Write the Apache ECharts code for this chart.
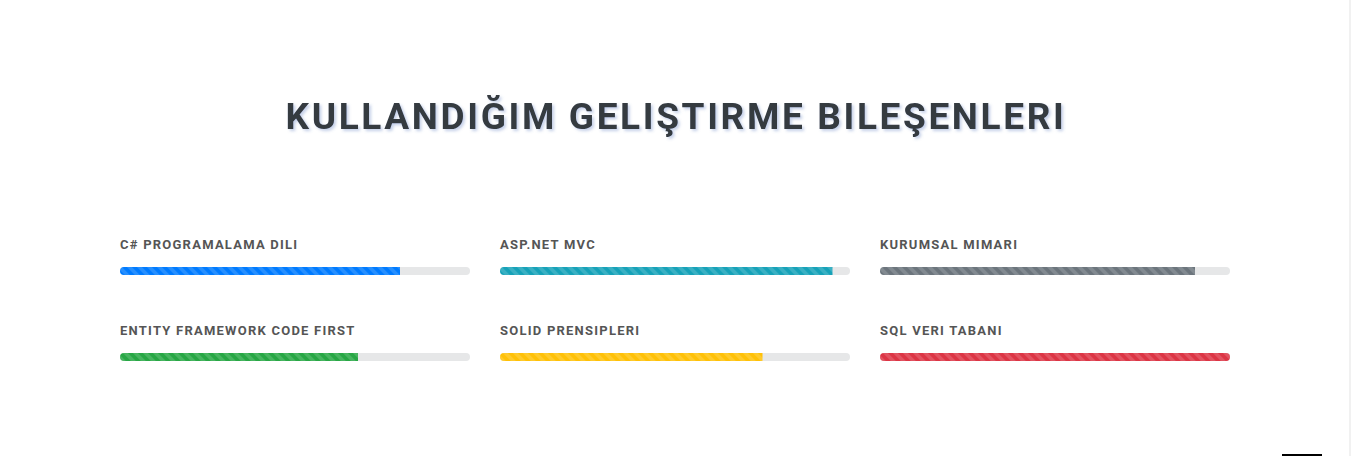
<!DOCTYPE html>
<html>
<head>
<meta charset="utf-8">
<script src="https://cdn.jsdelivr.net/npm/echarts@6/dist/echarts.min.js"></script>
<style>
html,body{margin:0;padding:0;background:#fff;}
#chart{width:1351px;height:456px;}
#chart svg text{letter-spacing:0.095em;}
#chart svg text[style*="37px"]{letter-spacing:0.071em;}
</style>
</head>
<body>
<div id="chart"></div>
<script>
const titleText = 'KULLANDIĞIM GELIŞTIRME BILEŞENLERI';
const categories = ['C# PROGRAMALAMA DILI', 'ASP.NET MVC', 'KURUMSAL MIMARI', 'ENTITY FRAMEWORK CODE FIRST', 'SOLID PRENSIPLERI', 'SQL VERI TABANI'];
const values = [80, 95, 90, 68, 75, 100];
const colors = ['#007bff', '#17a2b8', '#6c757d', '#28a745', '#ffc107', '#dc3545'];

function stripe(color) {
  const n = 10, ss = 4;
  const c = document.createElement('canvas');
  c.width = n; c.height = n;
  const ctx = c.getContext('2d');
  ctx.fillStyle = color; ctx.fillRect(0, 0, n, n);
  const img = ctx.getImageData(0, 0, n, n);
  for (let y = 0; y < n; y++) for (let x = 0; x < n; x++) {
    let cov = 0;
    for (let a = 0; a < ss; a++) for (let b = 0; b < ss; b++) {
      const px = x + (a + 0.5) / ss, py = y + (b + 0.5) / ss;
      let s = (px + n - py) % n; if (s < 0) s += n;
      if (s < n / 2) cov++;
    }
    const al = 0.15 * cov / (ss * ss);
    const k = (y * n + x) * 4;
    for (let j = 0; j < 3; j++) img.data[k + j] = Math.round(img.data[k + j] * (1 - al) + 255 * al);
  }
  ctx.putImageData(img, 0, 0);
  return c.toDataURL();
}

const chart = echarts.init(document.getElementById('chart'), null, {renderer: 'svg'});
const grids = [], xAxes = [], yAxes = [], series = [];
categories.forEach((name, i) => {
  const col = i % 3, row = Math.floor(i / 3);
  grids.push({left: 120 + col * 380, top: 267 + row * 86, width: 350, height: 8});
  xAxes.push({type: 'value', gridIndex: i, min: 0, max: 100, show: false});
  yAxes.push({type: 'category', gridIndex: i, data: [name], show: false});
  series.push({
    type: 'bar', xAxisIndex: i, yAxisIndex: i, barWidth: 8, silent: true, animation: false,
    showBackground: true,
    backgroundStyle: {color: '#e6e7e8', borderRadius: 4},
    itemStyle: {color: {image: stripe(colors[i]), repeat: 'repeat'}, borderRadius: values[i] >= 100 ? 4 : [4, 0, 0, 4]},
    label: {
      show: true, position: [0, -22.5], formatter: '{b}', align: 'left', verticalAlign: 'middle',
      fontFamily: 'Roboto', fontWeight: 'bold', fontSize: 13, color: '#555'
    },
    data: [values[i]]
  });
});

chart.setOption({
  animation: false,
  grid: grids, xAxis: xAxes, yAxis: yAxes, series: series,
  graphic: [
    {type: 'text', x: 676, y: 98, style: {
      text: titleText, fontFamily: 'Roboto', fontWeight: 'bold', fontSize: 37, fill: '#343a40',
      textAlign: 'center', textVerticalAlign: 'top',
      textShadowColor: 'rgba(90,120,190,0.35)', textShadowBlur: 3, textShadowOffsetX: 2, textShadowOffsetY: 2
    }},
    {type: 'rect', shape: {x: 1349, y: 0, width: 2, height: 456}, style: {fill: '#f1f1f1'}, silent: true},
    {type: 'rect', shape: {x: 1282, y: 454, width: 40, height: 2}, style: {fill: '#000'}, silent: true}
  ]
});
</script>
</body>
</html>
